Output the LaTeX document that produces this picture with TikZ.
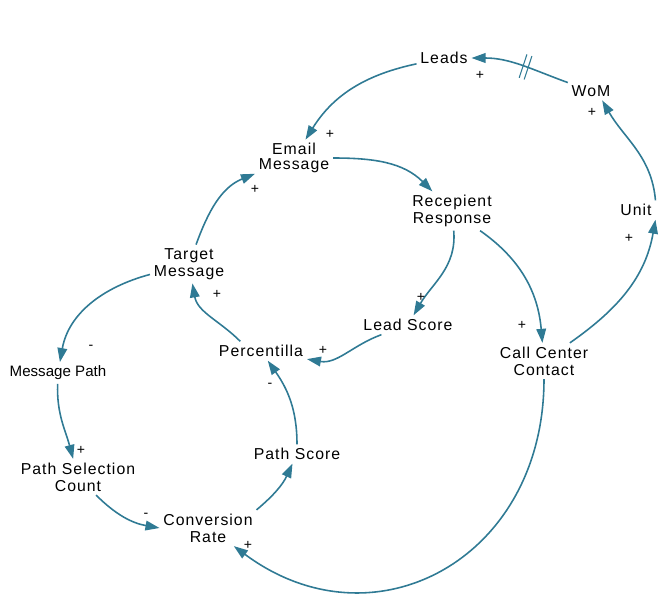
\documentclass[tikz,border=0pt]{standalone}
\usepackage{fontspec}
\setmainfont{Liberation Sans}
\newfontfamily\varfont[LetterSpace=6.5]{Liberation Sans}
\usetikzlibrary{arrows.meta,decorations.markings}
\definecolor{linkblue}{RGB}{47,122,148}
\begin{document}
\begin{tikzpicture}[
    x=0.02cm, y=-0.02cm,
    every node/.style={font=\varfont\fontsize{9}{9.6}\selectfont, align=center, inner sep=2pt},
    sign/.style={font=\fontsize{8}{8}\selectfont, inner sep=0pt},
    arr/.style={-{Triangle[length=8pt,width=5.5pt]}, linkblue, line width=0.9pt},
    delaymark/.style={postaction={decorate, decoration={markings,
        mark=at position 0.45 with {\draw[-, linkblue, line width=0.6pt]
            (-1.5pt,-7pt) -- (-1.5pt,7pt) (1.5pt,-7pt) -- (1.5pt,7pt);}}}},
]
    \useasboundingbox (0,0) rectangle (670,598);
    % variables
    \node (leads) at (444,58) {Leads};
    \node (wom) at (591,91) {WoM};
    \node (unit) at (636,210) {Unit};
    \node (email) at (294,158) {Email\\[-1.5pt]Message};
    \node (recep) at (452,211) {Recepient\\Response};
    \node (target) at (189,264) {Target\\Message};
    \node (lscore) at (408,325) {Lead Score};
    \node (perc) at (261,351) {Percentilla};
    \node (ccc) at (544,361) {Call Center\\Contact};
    \node[font=\fontsize{8.6}{9.6}\selectfont] (mpath) at (58,373) {Message Path};
    \node (psc) at (78,477) {Path Selection\\Count};
    \node (pscore) at (297,454) {Path Score};
    \node (conv) at (208,528) {Conversion\\Rate};
    % links
    \draw[arr] (leads) to[out=192,in=58] (email);
    \draw[arr, delaymark] (wom) to[out=160,in=0] (leads);
    \draw[arr] (unit.north east) to[out=95,in=-60] (wom.-40);
    \draw[arr] (ccc) to[out=35,in=-100] (unit.south east);
    \draw[arr] (email) to[out=0,in=135] (recep);
    \draw[arr] (recep) to[out=-85,in=60] (lscore);
    \draw[arr] (recep) to[out=-35,in=95] (ccc);
    \draw[arr] (lscore) to[out=200,in=-10] (perc);
    \draw[arr] (perc.155) to[out=135,in=-80] (target);
    \draw[arr] (target) to[out=70,in=-158] (email);
    \draw[arr] (target) to[out=195,in=80] (mpath);
    \draw[arr] (mpath) to[out=-92,in=105] (psc);
    \draw[arr] (psc) to[out=-45,in=170] (conv.west);
    \draw[arr] (conv.north east) to[out=40,in=-115] (pscore);
    \draw[arr] (pscore) to[out=90,in=-55] (perc);
    \draw[arr] (ccc.south) .. controls +(0,180) and +(140,104) .. (conv.-35);
    % polarities
    \node[sign] at (330,134) {+};
    \node[sign] at (480,75) {+};
    \node[sign] at (592,112) {+};
    \node[sign] at (629,238) {+};
    \node[sign] at (421,297) {+};
    \node[sign] at (522,325) {+};
    \node[sign] at (323,350) {+};
    \node[sign] at (217,294) {+};
    \node[sign] at (255,189) {+};
    \node[sign] at (91,347) {-};
    \node[sign] at (81,450) {+};
    \node[sign] at (146,515) {-};
    \node[sign] at (270,385) {-};
    \node[sign] at (248,545) {+};
\end{tikzpicture}
\end{document}
